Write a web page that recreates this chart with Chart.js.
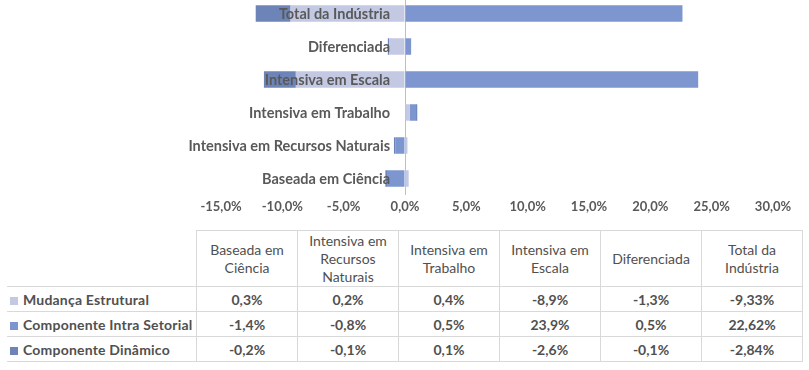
<!DOCTYPE html>
<html>
<head>
<meta charset="utf-8">
<script src="https://cdn.jsdelivr.net/npm/chart.js@4"></script>
<style>
  body { margin: 0; background: #fff; width: 809px; height: 370px; position: relative; overflow: hidden; font-family: Lato, "Open Sans", sans-serif; }
  #wrap { position: absolute; left: 0; top: -3px; width: 809px; height: 222px; }
  #dataTable { position: absolute; left: 7px; top: 230px; border-collapse: collapse; table-layout: fixed; color: #505050; font-size: 14px; }
  #dataTable th, #dataTable td { border: 1px solid #d9d9d9; text-align: center; padding: 0; }
  #dataTable th { font-weight: normal; height: 55px; line-height: 18px; width: 100px; }
  #dataTable th.corner { border-top: none; border-left: none; width: 189px; }
  #dataTable td { height: 24px; font-weight: bold; }
  #dataTable td.lbl { border-left: none; text-align: left; white-space: nowrap; letter-spacing: 0.2px; }
  .key { display: inline-block; width: 8px; height: 8px; margin: 0 5px 0 3px; }
</style>
</head>
<body>
<div id="wrap"><canvas id="myChart"></canvas></div>
<table id="dataTable"></table>
<script>
// categories in table order (bottom to top in the chart)
const categories = ["Baseada em Ciência", "Intensiva em Recursos Naturais", "Intensiva em Trabalho", "Intensiva em Escala", "Diferenciada", "Total da Indústria"];
const headerLines = [["Baseada em", "Ciência"], ["Intensiva em", "Recursos", "Naturais"], ["Intensiva em", "Trabalho"], ["Intensiva em", "Escala"], ["Diferenciada"], ["Total da", "Indústria"]];

const seriesNames = ["Mudança Estrutural", "Componente Intra Setorial", "Componente Dinâmico"];
const mudanca = [0.3, 0.2, 0.4, -8.9, -1.3, -9.33];
const intraSetorial = [-1.4, -0.8, 0.5, 23.9, 0.5, 22.62];
const dinamico = [-0.2, -0.1, 0.1, -2.6, -0.1, -2.84];
const colors = ["#c4c9e3", "#7d96d0", "#6d84b8"];

const xTicks = [-15, -10, -5, 0, 5, 10, 15, 20, 25, 30];

const allSeries = [mudanca, intraSetorial, dinamico];

function fmt(v) {
    return String(v).replace(".", ",") + "%";
}

// category names drawn next to the zero line, on top of the bars
const catLabels = {
    id: "catLabels",
    afterDatasetsDraw(chart) {
        const ctx = chart.ctx;
        const xs = chart.scales.x;
        const ys = chart.scales.y;
        ctx.save();
        ctx.font = "bold 14.5px Lato";
        ctx.fillStyle = "#595959";
        ctx.textAlign = "right";
        ctx.textBaseline = "middle";
        for (let i = 0; i < categories.length; i++) {
            ctx.fillText(categories[i], xs.getPixelForValue(0) - 15, ys.getPixelForValue(i) + 1);
        }
        ctx.restore();
    }
};

const datasets = [];
for (let i = 0; i < allSeries.length; i++) {
    datasets.push({
        label: seriesNames[i],
        data: allSeries[i],
        backgroundColor: colors[i],
        borderWidth: 0,
        categoryPercentage: 0.5,
        barPercentage: 1
    });
}

new Chart(document.getElementById("myChart"), {
    type: "bar",
    data: { labels: categories, datasets: datasets },
    plugins: [catLabels],
    options: {
        indexAxis: "y",
        responsive: true,
        maintainAspectRatio: false,
        animation: false,
        layout: { padding: { left: 221, right: 36, top: 0, bottom: 0 } },
        plugins: { legend: { display: false }, tooltip: { enabled: false } },
        scales: {
            x: {
                stacked: true,
                min: -15,
                max: 30,
                afterBuildTicks: (s) => { s.ticks = xTicks.map(v => ({ value: v })); },
                afterFit: (s) => { s.height = 24; },
                border: { display: false },
                grid: {
                    drawTicks: false,
                    color: (c) => (c.tick && c.tick.value === 0 ? "#bfbfbf" : "rgba(0,0,0,0)")
                },
                ticks: {
                    padding: 4,
                    color: "#595959",
                    font: { family: "Lato", size: 13, weight: "bold" },
                    callback: (v) => v.toFixed(1).replace(".", ",") + "%"
                }
            },
            y: {
                stacked: true,
                reverse: true,
                display: false
            }
        }
    }
});

// data table under the chart
const table = document.getElementById("dataTable");
let html = "<tr><th class='corner'></th>";
for (let i = 0; i < headerLines.length; i++) {
    html += "<th>" + headerLines[i].join("<br>") + "</th>";
}
html += "</tr>";
for (let s = 0; s < allSeries.length; s++) {
    html += "<tr><td class='lbl'><span class='key' style='background:" + colors[s] + "'></span>" + seriesNames[s] + "</td>";
    for (let i = 0; i < categories.length; i++) {
        html += "<td>" + fmt(allSeries[s][i]) + "</td>";
    }
    html += "</tr>";
}
table.innerHTML = html;
</script>
</body>
</html>
